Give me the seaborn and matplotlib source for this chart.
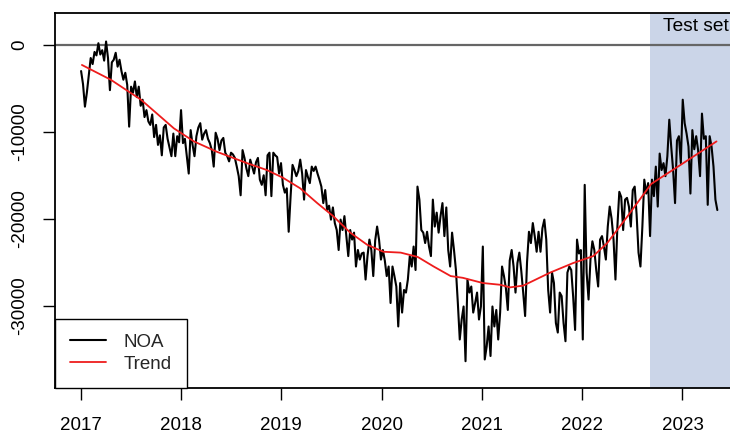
import numpy as np
import pandas as pd
import matplotlib
matplotlib.use("Agg")
import matplotlib.pyplot as plt
import seaborn as sns

# Weekly NOA observations, starting on the first Monday of 2017
series_start = "2017-01-02"
noa = [
    -3000, -4500, -7100, -5500, -3500, -1500, -2200, -800, -1200, 200,
    -1100, -600, -1800, 400, -1500, -5200, -2000, -1700, -900, -2500,
    -1700, -3000, -4000, -3200, -4600, -9400, -4800, -5500, -4200, -6000,
    -4800, -7000, -6300, -8300, -7500, -8800, -9200, -8000, -10600, -9200,
    -11500, -10400, -12700, -9500, -9200, -10800, -11800, -12800, -10200,
    -12800, -10500, -11200, -7500, -11300, -10800, -12800, -14800, -9800, -11500,
    -12800, -10500, -9500, -9000, -10900, -10200, -9800, -10800, -11300, -12100,
    -14000, -10100, -10800, -12100, -11000, -10700, -12400, -12800, -13400, -12400,
    -12600, -13000, -14000, -15100, -17300, -12100, -13000, -14200, -15100, -13200,
    -14000, -14800, -13500, -13000, -15500, -16100, -15000, -17300, -12700, -12400,
    -17400, -12400, -12700, -12900, -14800, -13600, -16100, -17000, -16500, -21500,
    -17400, -13800, -14400, -15100, -14500, -13200, -14800, -17800, -14400, -15200,
    -15900, -14000, -14500, -14000, -14800, -15500, -16300, -18200, -16700, -19000,
    -18500, -20100, -18700, -20500, -21300, -23600, -20100, -21300, -19700, -22000,
    -24300, -21300, -22400, -21600, -25500, -23600, -24700, -24000, -23900, -27000,
    -24300, -22400, -23600, -26600, -22500, -20900, -22400, -24700, -23600, -24800,
    -26600, -25500, -29700, -25500, -26600, -27800, -32400, -27400, -30800, -28200,
    -28500, -27000, -24300, -25500, -23200, -25900, -16300, -17800, -21300, -21600,
    -22800, -21500, -23200, -24300, -17800, -20900, -19300, -21600, -19700, -18200,
    -22000, -18700, -23600, -25500, -21600, -23600, -25900, -29700, -33900,
    -31600, -30100, -36400, -27000, -28500, -27800, -30800, -29700, -28500, -31600,
    -30100, -23200, -36200, -34700, -32400, -35800, -30100, -32400, -30500, -33900,
    -30800, -25500, -26600, -28000, -30500, -24800, -23600, -25500, -28500, -25100,
    -23900, -26000, -28500, -31200, -25000, -21500, -22800, -20500, -22000, -23800,
    -21500, -23800, -21100, -20100, -22400, -28200, -30800, -26200, -27400, -32000,
    -33100, -28500, -28900, -32000, -34100, -26200, -25500, -25900, -29000, -32800,
    -22400, -24000, -23600, -33900, -16100, -26200, -29300, -24700, -22600, -23600,
    -25900, -27800, -22400, -22000, -23200, -24700, -20900, -18600, -20000, -22400,
    -27000, -20900, -16900, -17500, -21300, -17800, -17600, -18600, -20900, -16700,
    -16300, -19500, -23900, -25500, -20900, -15500, -17100, -15900, -22000,
    -15500, -17400, -14000, -18600, -12500, -14400, -13600, -15100, -12800, -8600,
    -11700, -14400, -18200, -11000, -10500, -13600, -6300, -9000, -10200, -11700,
    -17100, -9800, -12000, -10500, -12100, -15100, -7900, -10800, -10500, -18400,
    -10500, -11700, -14000, -17800, -19000,
]

# Smoothed trend (fitted part, then the straight projection over the test period)
trend_dates = [
    "2017-01-05", "2017-04-20", "2017-08-08", "2017-10-09", "2017-12-06",
    "2018-02-17", "2018-05-12", "2018-08-29", "2018-11-10", "2019-01-08",
    "2019-03-11", "2019-05-12", "2019-07-09", "2019-09-09", "2019-11-10",
    "2020-01-08", "2020-03-11", "2020-05-12", "2020-07-09", "2020-09-09",
    "2020-10-23", "2021-01-04", "2021-03-08", "2021-04-13", "2021-05-31",
    "2021-09-06", "2021-11-29", "2022-02-10", "2022-04-02", "2022-06-13",
    "2022-09-09", "2023-01-04", "2023-05-05",
]
trend_values = [
    -2300, -4000, -6300, -8000, -9600,
    -11100, -12300, -13600, -14400, -15300,
    -16500, -18200, -19700, -21600, -23000,
    -23800, -23900, -24400, -25500, -26600,
    -26800, -27400, -27600, -27900, -27700,
    -26200, -25100, -24300, -22800, -19800,
    -16000, -13600, -11100,
]

year_ticks = [2017, 2018, 2019, 2020, 2021, 2022, 2023]
y_ticks = [0, -10000, -20000, -30000]
test_start = "2022-09-04"
test_label = "Test set"

sns.set_theme(style="white")
plt.rcParams["font.family"] = ["Liberation Sans", "DejaVu Sans"]

dates = pd.date_range(series_start, periods=len(noa), freq="7D")
obs = pd.DataFrame({"date": dates, "NOA": noa})
trend = pd.DataFrame({"date": pd.to_datetime(trend_dates), "Trend": trend_values})

fig = plt.figure(figsize=(7.30, 4.36), dpi=100)
ax = fig.add_axes([55 / 730, 1 - 387.5 / 436, (742.6 - 55) / 730, (387.5 - 13) / 436])

ax.axvspan(pd.Timestamp(test_start), pd.Timestamp("2024-06-01"),
           color="#cbd5e8", lw=0, zorder=0)
ax.axhline(0, color="#666666", lw=1.6, zorder=1)

sns.lineplot(data=obs, x="date", y="NOA", color="black", lw=1.5,
             ax=ax, label="NOA", zorder=2)
sns.lineplot(data=trend, x="date", y="Trend", color="#ee1c1c", lw=1.3,
             ax=ax, label="Trend", zorder=3)

ax.text(pd.Timestamp("2022-10-22"), 2070, test_label, fontsize=13.8,
        ha="left", va="center", color="black", zorder=4)

ax.set_xlim(pd.Timestamp("2016-09-29"), pd.Timestamp("2023-08-08"))
ax.set_ylim(-39425, 3680)

ax.set_xticks([pd.Timestamp(f"{y}-01-01") for y in year_ticks])
ax.set_xticklabels([str(y) for y in year_ticks])
ax.set_yticks(y_ticks)
ax.set_yticklabels([str(v) for v in y_ticks], rotation=90, va="center")
ax.set_xlabel("")
ax.set_ylabel("")

ax.tick_params(axis="both", direction="out", length=8.5, width=1.0,
               color="black", labelsize=13.5, labelcolor="black")
ax.tick_params(axis="x", pad=13)
ax.tick_params(axis="y", pad=11)
ax.xaxis.set_ticks_position("bottom")
ax.yaxis.set_ticks_position("left")

for sp in ax.spines.values():
    sp.set_visible(True)
    sp.set_color("black")
    sp.set_linewidth(1.3)
    sp.set_zorder(6)

leg = ax.legend(loc="lower left", frameon=True, fancybox=False,
                edgecolor="black", borderaxespad=0, fontsize=13.5,
                handlelength=1.9, handletextpad=0.95, borderpad=0.8,
                labelspacing=0.25)
leg.get_frame().set_linewidth(1.0)
leg.get_frame().set_facecolor("white")
leg.get_frame().set_alpha(1.0)
leg.set_zorder(7)

fig.savefig("out.png", dpi=100)
